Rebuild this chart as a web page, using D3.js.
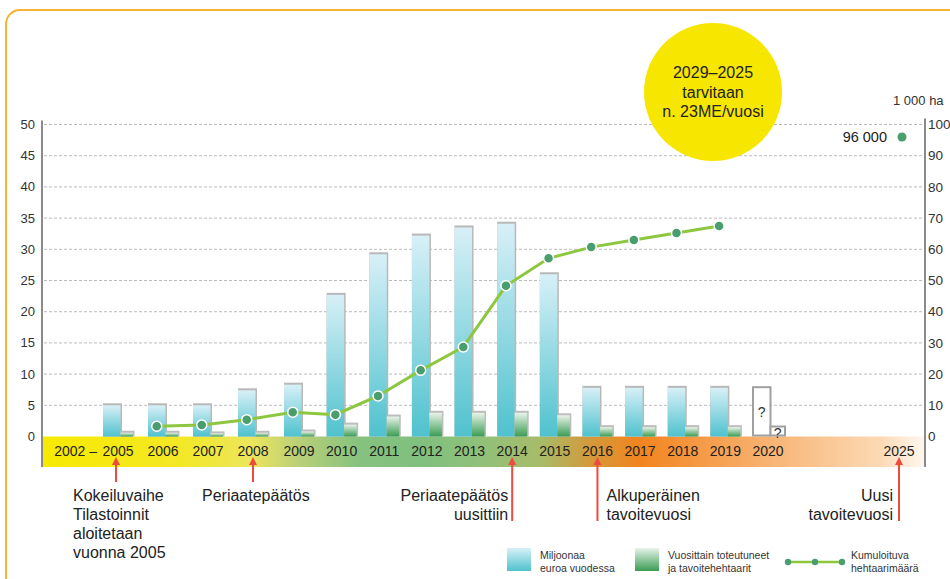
<!DOCTYPE html>
<html lang="fi">
  <head>
    <meta charset="utf-8">
    <title>Hehtaarit ja eurot vuosittain</title>
    <script src="https://cdn.jsdelivr.net/npm/d3@7"></script>
    <style>
    body { margin: 0; background: #fff; }
    svg { display: block; font-family: "Liberation Sans", Arial, sans-serif; }
    .grid line { stroke: #bcbcbc; stroke-dasharray: 3,2; }
    .tick-label { font-size: 13px; fill: #333; }
    .tick-label.right { font-size: 13.5px; }
    .year-label { font-size: 14px; fill: #222; }
    .note { font-size: 16px; fill: #222; }
    .legend text { font-size: 10.5px; fill: #333; }
    </style>
  </head>
  <body>
    <div id="chart"></div>
    <script>

    // yearly data
    var years     = [2005, 2006, 2007, 2008, 2009, 2010, 2011, 2012, 2013, 2014, 2015, 2016, 2017, 2018, 2019];
    var euros     = [5, 5, 5, 7.4, 8.3, 22.7, 29.2, 32.2, 33.5, 34.1, 26, 7.8, 7.8, 7.8, 7.8];   // milj. euroa
    var hectares  = [1.2, 1.2, 1.0, 1.2, 1.6, 3.8, 6.4, 7.6, 7.6, 7.6, 6.8, 3.0, 3.0, 3.0, 3.0]; // 1 000 ha / vuosi

    var cumYears   = [2006, 2007, 2008, 2009, 2010, 2011, 2012, 2013, 2014, 2015, 2016, 2017, 2018, 2019];
    var cumulative = [3.3, 3.7, 5.4, 7.8, 7.0, 13.0, 21.2, 28.7, 48.3, 57.1, 60.7, 63.0, 65.2, 67.5]; // 1 000 ha

    // unknown year (question marks)
    var openYear = 2020, openEuros = 7.9, openHectares = 3.2;

    // target
    var targetYear = 2025, targetValue = 96, targetLabel = "96 000";

    var yearLabels = [2005, 2006, 2007, 2008, 2009, 2010, 2011, 2012, 2013, 2014, 2015, 2016, 2017, 2018, 2019, 2020, 2025];
    var leftTicks  = [0, 5, 10, 15, 20, 25, 30, 35, 40, 45, 50];
    var rightTicks = [0, 10, 20, 30, 40, 50, 60, 70, 80, 90, 100];

    var noteYears = [2005, 2008, 2014, 2016, 2025];
    var noteTexts = [
      ["Kokeiluvaihe", "Tilastoinnit", "aloitetaan", "vuonna 2005"],
      ["Periaatepäätös"],
      ["Periaatepäätös", "uusittiin"],
      ["Alkuperäinen", "tavoitevuosi"],
      ["Uusi", "tavoitevuosi"]
    ];
    var bubbleText = ["2029–2025", "tarvitaan", "n. 23ME/vuosi"];

    var legendTexts = [
      ["Miljoonaa", "euroa vuodessa"],
      ["Vuosittain toteutuneet", "ja tavoitehehtaarit"],
      ["Kumuloituva", "hehtaarimäärä"]
    ];

    // layout
    var W = 950, H = 579;
    var axisL = 42, axisR = 925;
    var base = 436.5, bandBottom = 467;
    var blueW = 17.5, greenW = 12.5;

    var svg = d3.select("#chart").append("svg")
        .attr("width", W)
        .attr("height", H);

    var defs = svg.append("defs");

    function vGrad(id, top, bottom) {
      var g = defs.append("linearGradient").attr("id", id)
          .attr("x1", 0).attr("y1", 0).attr("x2", 0).attr("y2", 1);
      g.append("stop").attr("offset", 0).attr("stop-color", top);
      g.append("stop").attr("offset", 1).attr("stop-color", bottom);
    }
    vGrad("blueGrad", "#d8f0f7", "#4fc2ce");
    vGrad("greenGrad", "#e8f3ea", "#3a9c52");

    var band = defs.append("linearGradient").attr("id", "bandGrad")
        .attr("x1", 0).attr("y1", 0).attr("x2", 1).attr("y2", 0);
    [[0, "#f7ea00"], [0.156, "#f3e825"], [0.236, "#ece65c"], [0.292, "#b8cf78"],
     [0.36, "#86c27f"], [0.428, "#80c07f"], [0.496, "#90c07a"], [0.564, "#a7bc69"],
     [0.62, "#d39a3c"], [0.677, "#f2841f"], [0.745, "#f59a45"], [0.836, "#f8b77a"],
     [0.949, "#fcd9b4"], [1, "#fff8f0"]].forEach(function(s) {
      band.append("stop").attr("offset", s[0]).attr("stop-color", s[1]);
    });

    // frame
    svg.append("rect")
        .attr("x", 6).attr("y", 10)
        .attr("width", 1000).attr("height", 700)
        .attr("rx", 14)
        .attr("fill", "none")
        .attr("stroke", "#f9b233")
        .attr("stroke-width", 2);

    // scales
    var x = d3.scaleLinear()
        .domain([2005, 2008, 2009, 2020, 2025])
        .range([118, 253, 299, 768, 899]);

    var yL = d3.scaleLinear().domain([0, 50]).range([base, 124.5]);
    var yR = d3.scaleLinear().domain([0, 100]).range([base, 124.5]);

    // grid
    svg.append("g").attr("class", "grid")
      .selectAll("line")
      .data(leftTicks.filter(function(d) { return d > 0; }))
      .enter().append("line")
        .attr("x1", axisL + 2).attr("x2", axisR - 2)
        .attr("y1", function(d) { return yL(d); })
        .attr("y2", function(d) { return yL(d); });

    // timeline band
    svg.append("rect")
        .attr("x", axisL).attr("y", base)
        .attr("width", axisR - axisL).attr("height", bandBottom - base)
        .attr("fill", "url(#bandGrad)");

    // bars
    var bars = svg.append("g");
    years.forEach(function(yr, i) {
      var c = x(yr);
      var bx = c - 15, gx = c + 2.5;
      var by = yL(euros[i]);
      var gy = yR(hectares[i]);
      bars.append("rect")
          .attr("x", bx).attr("y", by - 2)
          .attr("width", blueW + 1.5).attr("height", base - by + 2)
          .attr("fill", "#b8b8b8");
      bars.append("rect")
          .attr("x", bx).attr("y", by)
          .attr("width", blueW).attr("height", base - by)
          .attr("fill", "url(#blueGrad)");
      bars.append("rect")
          .attr("x", gx).attr("y", gy - 2)
          .attr("width", greenW + 1.5).attr("height", base - gy + 2)
          .attr("fill", "#bdbdbd");
      bars.append("rect")
          .attr("x", gx).attr("y", gy)
          .attr("width", greenW).attr("height", base - gy)
          .attr("fill", "url(#greenGrad)");
    });

    // the unknown year
    var oc = x(openYear);
    [[oc - 15, blueW, yL(openEuros)], [oc + 2.5, greenW + 2, yR(openHectares)]].forEach(function(b, k) {
      bars.append("rect")
          .attr("x", b[0]).attr("y", b[2])
          .attr("width", b[1]).attr("height", base - b[2] - 1)
          .attr("fill", "#fff")
          .attr("stroke", "#a0a0a0")
          .attr("stroke-width", 2);
      bars.append("text")
          .attr("x", b[0] + b[1] / 2)
          .attr("y", k === 0 ? (b[2] + base) / 2 + 5 : base + 1)
          .attr("text-anchor", "middle")
          .attr("font-size", 14)
          .attr("fill", "#333")
          .text("?");
    });

    // axes
    svg.append("line")
        .attr("x1", axisL).attr("x2", axisL)
        .attr("y1", yL(50) - 4).attr("y2", bandBottom)
        .attr("stroke", "#8a8a8a").attr("stroke-width", 2);
    svg.append("line")
        .attr("x1", axisR).attr("x2", axisR)
        .attr("y1", yR(100) - 6).attr("y2", bandBottom)
        .attr("stroke", "#8a8a8a").attr("stroke-width", 2);

    svg.append("g").selectAll("text")
      .data(leftTicks)
      .enter().append("text")
        .attr("class", "tick-label")
        .attr("x", axisL - 7)
        .attr("y", function(d) { return yL(d); })
        .attr("dy", "0.35em")
        .attr("text-anchor", "end")
        .text(function(d) { return d; });

    svg.append("g").selectAll("text")
      .data(rightTicks)
      .enter().append("text")
        .attr("class", "tick-label right")
        .attr("x", axisR + 3)
        .attr("y", function(d) { return yR(d); })
        .attr("dy", "0.35em")
        .text(function(d) { return d; });

    svg.append("text")
        .attr("class", "tick-label")
        .attr("x", 893).attr("y", 105)
        .text("1 000 ha");

    // year labels
    svg.append("g").selectAll("text")
      .data(yearLabels)
      .enter().append("text")
        .attr("class", "year-label")
        .attr("x", function(d) { return x(d); })
        .attr("y", 456)
        .attr("text-anchor", "middle")
        .text(function(d) { return d; });
    svg.append("text")
        .attr("class", "year-label")
        .attr("x", x(2005) - 21).attr("y", 456)
        .attr("text-anchor", "end")
        .text("2002 –");

    // cumulative line
    var line = d3.line()
        .x(function(d, i) { return x(cumYears[i]) - 6.25; })
        .y(function(d) { return yR(d); });

    svg.append("path")
        .datum(cumulative)
        .attr("d", line)
        .attr("fill", "none")
        .attr("stroke", "#8dc63f")
        .attr("stroke-width", 3);

    svg.append("g").selectAll("circle")
      .data(cumulative)
      .enter().append("circle")
        .attr("cx", function(d, i) { return x(cumYears[i]) - 6.25; })
        .attr("cy", function(d) { return yR(d); })
        .attr("r", 5)
        .attr("fill", "#4a9e6e")
        .attr("stroke", "#fff")
        .attr("stroke-width", 1.5);

    // target point
    svg.append("circle")
        .attr("cx", x(targetYear) + 3).attr("cy", yR(targetValue))
        .attr("r", 4.5)
        .attr("fill", "#4a9e6e");
    svg.append("text")
        .attr("x", x(targetYear) - 12).attr("y", yR(targetValue))
        .attr("dy", "0.35em")
        .attr("text-anchor", "end")
        .attr("font-size", 14.5)
        .attr("fill", "#222")
        .text(targetLabel);

    // yellow bubble
    svg.append("circle")
        .attr("cx", 713).attr("cy", 92).attr("r", 69)
        .attr("fill", "#f7e600");
    svg.append("g").selectAll("text")
      .data(bubbleText)
      .enter().append("text")
        .attr("x", 713)
        .attr("y", function(d, i) { return 78 + i * 19.5; })
        .attr("text-anchor", "middle")
        .attr("font-size", 16)
        .attr("fill", "#222")
        .text(function(d) { return d; });

    // arrows + notes
    var noteDx     = [-43, -51, -4, 9, -6];
    var noteAnchor = ["start", "start", "end", "start", "end"];
    var arrowEnd   = [482, 482, 521, 521, 521];
    var red = "#ee4a3e";

    noteYears.forEach(function(yr, i) {
      var ax = x(yr);
      if (i === 0) ax -= 2;
      var g = svg.append("g");
      g.append("line")
          .attr("x1", ax).attr("x2", ax)
          .attr("y1", 463).attr("y2", arrowEnd[i])
          .attr("stroke", red).attr("stroke-width", 2);
      g.append("path")
          .attr("d", d3.line()([[ax, 457], [ax - 4, 465], [ax + 4, 465]]) + "Z")
          .attr("fill", red);
      g.append("text")
          .attr("class", "note")
          .attr("text-anchor", noteAnchor[i])
          .selectAll("tspan")
          .data(noteTexts[i])
          .enter().append("tspan")
            .attr("x", ax + noteDx[i])
            .attr("y", function(d, k) { return 501 + k * 19; })
            .text(function(d) { return d; });
    });

    // legend
    var legend = svg.append("g").attr("class", "legend");
    [["url(#blueGrad)", 507], ["url(#greenGrad)", 635]].forEach(function(s) {
      legend.append("rect")
          .attr("x", s[1]).attr("y", 548)
          .attr("width", 24).attr("height", 23)
          .attr("fill", s[0]);
    });
    legend.append("line")
        .attr("x1", 788).attr("x2", 842)
        .attr("y1", 562).attr("y2", 562)
        .attr("stroke", "#8dc63f").attr("stroke-width", 2.5);
    legend.selectAll("circle")
      .data([788, 815, 842])
      .enter().append("circle")
        .attr("cx", function(d) { return d; })
        .attr("cy", 562)
        .attr("r", 3.2)
        .attr("fill", "#4a9e6e");

    var legendX = [540, 668, 851];
    legendTexts.forEach(function(lines, i) {
      legend.append("text")
        .selectAll("tspan")
        .data(lines)
        .enter().append("tspan")
          .attr("x", legendX[i])
          .attr("y", function(d, k) { return 559 + k * 12.5; })
          .text(function(d) { return d; });
    });

    </script>
  </body>
</html>
